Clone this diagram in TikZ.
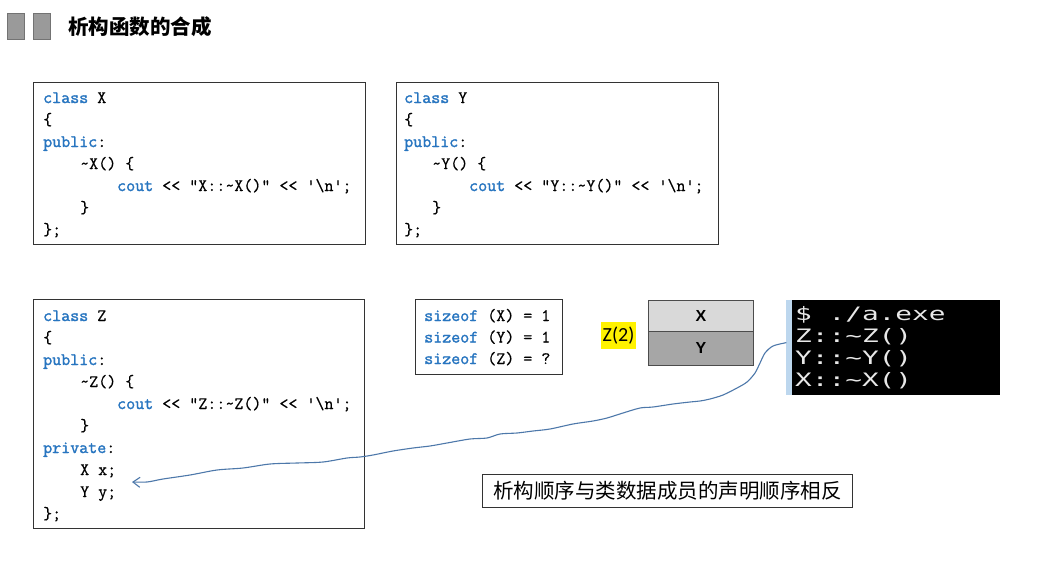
\documentclass[tikz,border=0pt]{standalone}
\usepackage{fontspec}
\setmainfont{Liberation Serif}
\setsansfont{Liberation Sans}
\setmonofont{Latin Modern Mono}[FakeBold=0.5]
\newfontfamily\kwfont{Latin Modern Mono}[FakeBold=1.6]
\newfontfamily\cjkfont{Noto Sans CJK SC}
\newfontfamily\termfont{DejaVu Sans Mono}[FakeStretch=1.5]
\newfontfamily\calfont{Carlito}
\usetikzlibrary{arrows.meta}

\definecolor{keyblue}{HTML}{2775C0}
\definecolor{penblue}{HTML}{4D78AA}
\definecolor{cellx}{HTML}{D9D9D9}
\definecolor{celly}{HTML}{A6A6A6}
\definecolor{termtext}{HTML}{E8E8E8}
\definecolor{termbar}{HTML}{BDD7EE}
\definecolor{iconfill}{HTML}{9A9A9A}
\newcommand{\kw}[1]{\textcolor{keyblue}{\kwfont #1}}

\tikzset{
    codebox/.style={draw=black!80, line width=0.8pt, anchor=north west, inner sep=0},
    codeline/.style={anchor=base west, inner sep=0, font=\ttfamily\fontsize{17.5}{20}\selectfont},
    termline/.style={anchor=base west, inner sep=0, text=termtext, font=\termfont\fontsize{18.5}{22}\selectfont},
    cell/.style={draw=black!70, line width=0.8pt, anchor=north west, inner sep=0, minimum width=105, font=\sffamily\bfseries\fontsize{16}{18}\selectfont},
}

\begin{document}
\begin{tikzpicture}[x=1pt, y=-1pt]
    \fill[white] (0,0) rectangle (1063,560);
    \useasboundingbox (0,0) rectangle (1063,560);

    % title
    \foreach \x in {7,33} {
        \node[draw=black!55, fill=iconfill, minimum width=17, minimum height=26, anchor=north west, inner sep=0] (icon\x) at (\x,13) {};
    }
    \node[anchor=west, inner sep=0, font=\cjkfont\bfseries\fontsize{20.5}{24}\selectfont] (title) at (68,27) {析构函数的合成};

    % class X and class Y
    \foreach \c/\x/\w/\tx/\ia/\ib in {X/33/332/43/37/74, Y/396/322/404/28/65} {
        \node[codebox, minimum width=\w, minimum height=162] (box\c) at (\x,82) {};
        \foreach \i/\ind/\txt in {1/0/{\kw{class} \c}, 2/0/{\{}, 3/0/{\kw{public}:},
                4/\ia/{\textasciitilde\c() \{},
                5/\ib/{\kw{cout} << "\c::\textasciitilde\c()" << '\textbackslash n';},
                6/\ia/{\}}, 7/0/{\};}} {
            \node[codeline] (\c line\i) at ({\tx+\ind},{103+22*(\i-1)}) {\txt};
        }
    }

    % class Z
    \node[codebox, minimum width=331, minimum height=229] (boxZ) at (33,299) {};
    \foreach \i/\ind/\txt in {1/0/{\kw{class} Z}, 2/0/{\{}, 3/0/{\kw{public}:},
            4/37/{\textasciitilde Z() \{},
            5/74/{\kw{cout} << "Z::\textasciitilde Z()" << '\textbackslash n';},
            6/37/{\}}, 7/0/{\kw{private}:}, 8/37/{X x;}, 9/37/{Y y;}, 10/0/{\};}} {
        \node[codeline] (Zline\i) at ({43+\ind},{321+22*(\i-1)}) {\txt};
    }

    % sizeof
    \node[codebox, minimum width=147, minimum height=75] (sizes) at (415,299) {};
    \foreach \i/\c/\v in {1/X/1, 2/Y/1, 3/Z/?} {
        \node[codeline] (size\c) at (424,{321+21.5*(\i-1)}) {\kw{sizeof} (\c) = \v};
    }

    % memory of Z
    \node[fill=yellow, minimum width=35, minimum height=27, inner sep=0, font=\calfont\fontsize{20}{22}\selectfont] (zlabel) at (618.5,335.5) {Z(2)};
    \node[cell, fill=cellx, minimum height=31] (cellX) at (648,300) {X};
    \node[cell, fill=celly, minimum height=34] (cellY) at (648,331) {Y};

    % output
    \node[fill=black, minimum width=214, minimum height=95, anchor=north west, inner sep=0] (term) at (786,300) {};
    \node[fill=termbar, minimum width=6, minimum height=95, anchor=north west, inner sep=0] (termbar) at (786,300) {};
    \foreach \i/\t in {1/{\$ ./a.exe}, 2/{Z::\textasciitilde Z()}, 3/{Y::\textasciitilde Y()}, 4/{X::\textasciitilde X()}} {
        \node[termline] (out\i) at (795,{320+22*(\i-1)}) {\t};
    }

    % note
    \node[draw=black!80, line width=0.8pt, minimum width=370, minimum height=33, anchor=north west, inner sep=0, font=\cjkfont\fontsize{20.5}{24}\selectfont] (note) at (482,474) {析构顺序与类数据成员的声明顺序相反};

    % hand drawn arrow
    \coordinate (xmember) at (132,482);
    \draw[penblue, line width=1.1pt, line cap=round, -{Straight Barb[length=7pt, width=10pt]}]
        plot[smooth, tension=0.5] coordinates {([yshift=5pt]term.west) (773,346) (765,353) (760,363) (755,373)
        (747,382) (737,388) (723,395) (710,399) (700,401) (690,402) (673,404) (653,407) (640,408)
        (623,413) (607,418) (593,421) (573,424) (550,429) (533,431) (517,433) (500,434) (487,438)
        (470,439) (447,443) (430,446) (413,448) (393,451) (373,455) (360,457) (347,458) (323,462)
        (297,463) (270,464) (243,468) (217,470) (190,475) (163,479) (147,482) (xmember)};
\end{tikzpicture}
\end{document}
